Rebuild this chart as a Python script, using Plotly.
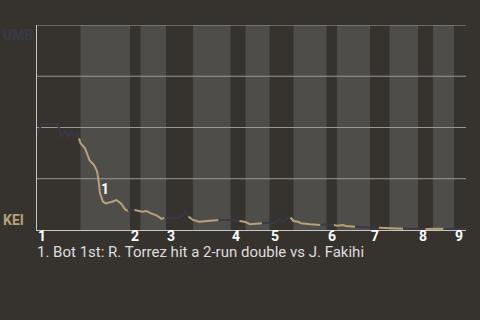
import plotly.graph_objects as go

# Win probability (UMB at top = 1, KEI at bottom = 0) by pitch number
pitch = [0, 3, 14, 16, 19, 21, 23, 25, 27, 28,
         29, 32, 34, 35, 38, 40, 41, 42, 44, 46, 50, 53, 56, 59, 61,
         62, 65, 69,
         70, 73, 76, 80, 83, 85,
         86, 90, 94, 98, 99, 101, 104,
         108, 114, 121,
         129, 135, 139,
         142, 150,
         155, 158, 160, 162, 164, 166, 169,
         171, 174, 176, 182, 189,
         193, 198,
         200, 204, 206, 212,
         222, 228,
         235, 244,
         254, 259,
         264, 271,
         278, 286]
win_prob = [0.463, 0.517, 0.517, 0.455, 0.483, 0.455, 0.480, 0.455, 0.475, 0.447,
            0.423, 0.399, 0.366, 0.341, 0.317, 0.288, 0.244, 0.179, 0.138, 0.130, 0.138, 0.146, 0.130, 0.098, 0.094,
            0.106, 0.098, 0.088,
            0.089, 0.093, 0.081, 0.070, 0.054, 0.060,
            0.059, 0.057, 0.060, 0.073, 0.098, 0.065, 0.049,
            0.040, 0.044, 0.049,
            0.049, 0.044, 0.039,
            0.028, 0.033,
            0.036, 0.033, 0.044, 0.054, 0.044, 0.054, 0.061,
            0.044, 0.040, 0.033, 0.028, 0.024,
            0.028, 0.024,
            0.021, 0.024, 0.020, 0.016,
            0.012, 0.011,
            0.010, 0.006,
            0.006, 0.005,
            0.005, 0.006,
            0.006, 0.004]

inning_start = [0, 62, 86, 129, 155, 193, 222, 254, 278]
bottom_start = [29, 69, 104, 139, 171, 200, 235, 264]
last_pitch = 286
inning_labels = ["1", "2", "3", "4", "5", "6", "7", "8", "9"]
grid_values = [0.25, 0.5, 0.75, 1.0]

away_team, home_team = "UMB", "KEI"
away_color, home_color = "#3a3846", "#b5a27a"
bg = "#36332f"
band = "#4f4d4a"
grid_color = "#9a9794"

note_pitch, note_prob = 45.3, 0.20
note_text = "1. Bot 1st: R. Torrez hit a 2-run double vs J. Fakihi"

fig = go.Figure()

# half-inning starts (sorted) with batting team
halves = []
for i, s in enumerate(inning_start):
    halves.append((s, away_color))
    if i < len(bottom_start):
        halves.append((bottom_start[i], home_color))
bounds = [h[0] for h in halves] + [last_pitch + 1]

prev = None
for k, (s, col) in enumerate(halves):
    e = bounds[k + 1]
    xs, ys = [], []
    if prev is not None:
        xs.append(prev[0]); ys.append(prev[1])
    for x, y in zip(pitch, win_prob):
        if s <= x < e:
            xs.append(x); ys.append(y)
    if len(xs) > 1:
        fig.add_trace(go.Scatter(x=xs, y=ys, mode="lines",
                                 line=dict(color=col, width=2),
                                 hoverinfo="skip", showlegend=False))
    if xs:
        prev = (xs[-1], ys[-1])

# bottom-half shading bands
ends = inning_start[1:] + [last_pitch]
for b, e in zip(bottom_start, ends):
    fig.add_shape(type="rect", xref="x", yref="paper", x0=b, x1=e, y0=0, y1=1,
                  fillcolor=band, line=dict(width=0), layer="below")
# horizontal grid lines
for g in grid_values:
    fig.add_shape(type="line", xref="paper", yref="y", x0=0, x1=1, y0=g, y1=g,
                  line=dict(color=grid_color, width=1), layer="below")

ann = []
for s, lab in zip(inning_start, inning_labels):
    ann.append(dict(x=s, y=0, xref="x", yref="paper", text=f"<b>{lab}</b>",
                    showarrow=False, xanchor="left", yanchor="top", xshift=-1, yshift=4,
                    font=dict(family="Roboto", size=14, color="#ffffff")))
ann.append(dict(x=note_pitch, y=note_prob, xref="x", yref="y", text="<b>1</b>",
                showarrow=False, font=dict(family="Roboto", size=14, color="#ffffff")))
ann.append(dict(x=-0.084, y=1, xref="paper", yref="paper", text=f"<b>{away_team}</b>",
                showarrow=False, xanchor="left", yanchor="top",
                font=dict(family="Roboto", size=14, color=away_color)))
ann.append(dict(x=-0.084, y=0.049, xref="paper", yref="paper", text=f"<b>{home_team}</b>",
                showarrow=False, xanchor="left", yanchor="middle",
                font=dict(family="Roboto", size=14, color=home_color)))
ann.append(dict(x=0, y=-0.107, xref="paper", yref="paper", text=note_text,
                showarrow=False, xanchor="left", yanchor="middle", xshift=-2,
                font=dict(family="Roboto", size=15, color="#dddddd")))

fig.update_layout(
    width=480, height=320,
    margin=dict(l=37, r=14, t=25, b=90),
    paper_bgcolor=bg, plot_bgcolor=bg,
    annotations=ann,
    xaxis=dict(range=[0, last_pitch], showgrid=False, zeroline=False,
               showticklabels=False, ticks="", showline=True,
               linecolor="#c8c6c3", linewidth=1, fixedrange=True),
    yaxis=dict(range=[0, 1], showgrid=False, zeroline=False,
               showticklabels=False, ticks="", showline=True,
               linecolor="#c8c6c3", linewidth=1, fixedrange=True),
)

fig.write_html("out.html", config={"displayModeBar": False})
